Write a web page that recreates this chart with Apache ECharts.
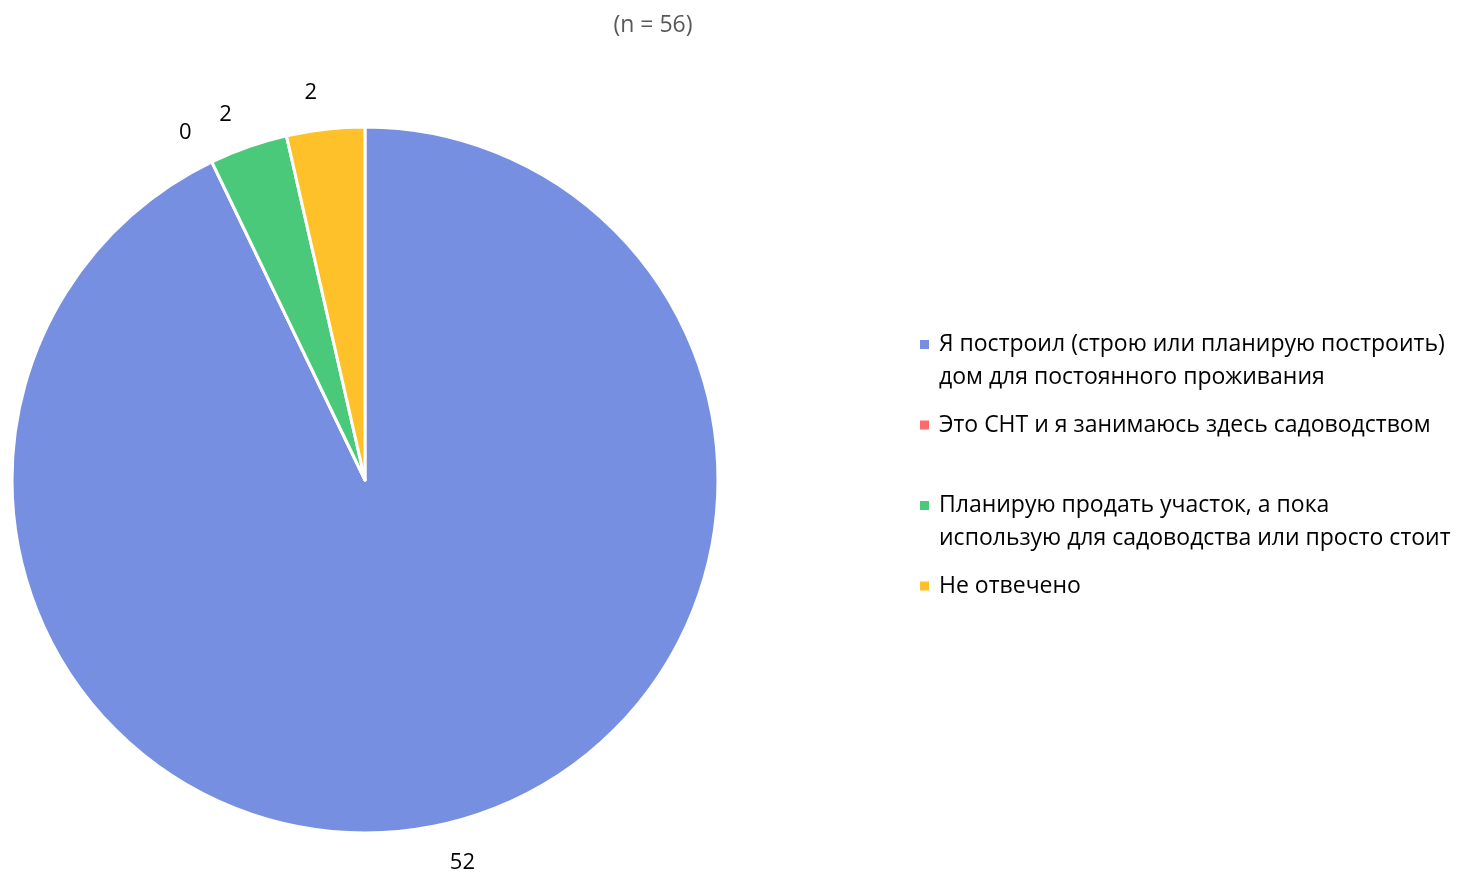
<!DOCTYPE html>
<html><head><meta charset="utf-8">
<script src="https://cdn.jsdelivr.net/npm/echarts@6/dist/echarts.min.js"></script>
<style>html,body{margin:0;padding:0;background:#fff}#c{width:1461px;height:874px}</style>
</head><body><div id="c"></div>
<script>
const categories = [
  "Я построил (строю или планирую построить)\nдом для постоянного проживания",
  "Это СНТ и я занимаюсь здесь садоводством",
  "Планирую продать участок, а пока\nиспользую для садоводства или просто стоит",
  "Не отвечено"
];
const values = [52, 0, 2, 2];
const colors = ["#778fe0", "#ff6b6b", "#4bc97a", "#ffc12a"];
const subtitle = "(n = 56)";
const FONT = "'Open Sans', sans-serif";

const chart = echarts.init(document.getElementById('c'));
const pieData = categories.map((n, i) => ({ name: n, value: values[i], itemStyle: { color: colors[i] } }));
const iconPath = 'path://M0,0h0.01v0.01h-0.01z M0,12h9v9h-9z M14,66h0.01v-0.01h-0.01z';
chart.setOption({
  animation: false,
  title: { text: subtitle, left: 648, top: 9, textAlign: 'center',
    textStyle: { color: '#595959', fontSize: 23, fontWeight: 'normal', fontFamily: FONT } },
  legend: {
    orient: 'vertical', left: 920, top: 328, padding: 0, itemGap: 14.5,
    itemWidth: 14, itemHeight: 66, icon: iconPath,
    itemStyle: { borderWidth: 0 },
    formatter: function (name) { return name.indexOf('\n') >= 0 ? name : name + '\n\u00a0'; },
    textStyle: { fontSize: 23, fontFamily: FONT, color: '#000', lineHeight: 33 },
    data: categories
  },
  series: [
    {
      type: 'pie', center: [365, 480], radius: [0, 353], startAngle: 90, clockwise: true,
      avoidLabelOverlap: false, stillShowZeroSum: true,
      itemStyle: { borderColor: '#fff', borderWidth: 3 },
      label: { show: false }, labelLine: { show: false },
      emphasis: { disabled: true },
      data: pieData
    },
    {
      type: 'pie', center: [365, 482], radius: [380, 400], startAngle: 91.5, clockwise: true,
      avoidLabelOverlap: false, silent: true, legendHoverLink: false,
      itemStyle: { color: 'rgba(0,0,0,0)' },
      label: { show: true, position: 'inside', formatter: '{c}', color: '#000', fontSize: 22, fontFamily: FONT },
      labelLine: { show: false },
      emphasis: { disabled: true },
      data: categories.map((n, i) => ({ name: n, value: values[i] }))
    }
  ]
});
</script></body></html>
